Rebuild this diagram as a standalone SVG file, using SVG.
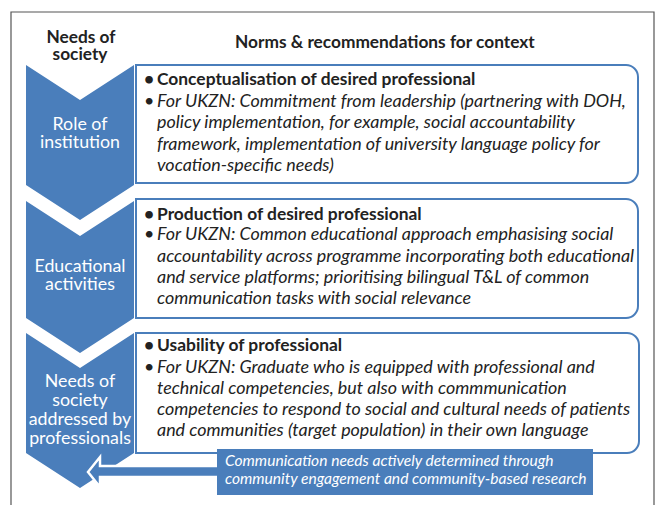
<svg xmlns="http://www.w3.org/2000/svg" width="657" height="505" viewBox="0 0 657 505">
<style>
.frame{fill:none;stroke:#555;stroke-width:1.2}
.chev{fill:#4a7ebb}
.box{fill:#fff;stroke:#4a7ebb;stroke-width:2}
.hdr{font-family:Lato,"Open Sans",sans-serif;font-weight:bold;font-size:17.3px;fill:#222}
.lbl{font-family:Lato,"Open Sans",sans-serif;font-size:17.8px;fill:#fff;text-anchor:middle}
.b{font-family:Lato,"Open Sans",sans-serif;font-weight:bold;font-size:17.4px;fill:#222}
.i{font-family:Lato,"Open Sans",sans-serif;font-style:italic;font-size:17.9px;fill:#222}
.note{font-family:Lato,"Open Sans",sans-serif;font-style:italic;font-size:15.6px;fill:#fff}
</style>
<rect width="657" height="505" fill="#fff"/>
<path class="frame" d="M11,505 V12 H654 V505"/>
<g id="header">
<text class="hdr" x="81" y="43" text-anchor="middle">Needs of</text>
<text class="hdr" x="80" y="60" text-anchor="middle">society</text>
<text class="hdr" x="235" y="48">Norms &amp; recommendations for context</text>
</g>
<g id="chevron1">
<path class="chev" d="M26,65 L80,100 L134,65 V185 L80,220 L26,185 Z"/>
<text class="lbl" x="80" y="130">Role of</text>
<text class="lbl" x="80" y="148">institution</text>
</g>
<g id="chevron2">
<path class="chev" d="M26,201 L80,236 L134,201 V318 L80,353 L26,318 Z"/>
<text class="lbl" x="80" y="272">Educational</text>
<text class="lbl" x="80" y="290">activities</text>
</g>
<g id="chevron3">
<path class="chev" d="M26,333 L80,368 L134,333 V453 L80,488 L26,453 Z"/>
<text class="lbl" x="80" y="387">Needs of</text>
<text class="lbl" x="80" y="406">society</text>
<text class="lbl" x="80" y="425">addressed by</text>
<text class="lbl" x="80" y="444">professionals</text>
</g>
<g id="box1">
<path class="box" d="M136,65 H626 A12,12 0 0 1 638,77 V171 A12,12 0 0 1 626,183 H136 Z"/>
<text class="b" x="144" y="85">•</text>
<text class="b" x="157" y="85">Conceptualisation of desired professional</text>
<text class="i" x="144" y="107" font-style="normal">•</text>
<text class="i" x="157" y="107">For UKZN: Commitment from leadership (partnering with DOH,</text>
<text class="i" x="157" y="128">policy implementation, for example, social accountability</text>
<text class="i" x="157" y="150">framework, implementation of university language policy for</text>
<text class="i" x="157" y="171">vocation-specific needs)</text>
</g>
<g id="box2">
<path class="box" d="M136,199 H626 A12,12 0 0 1 638,211 V306 A12,12 0 0 1 626,318 H136 Z"/>
<text class="b" x="144" y="220">•</text>
<text class="b" x="157" y="220">Production of desired professional</text>
<text class="i" x="144" y="240" font-style="normal">•</text>
<text class="i" x="157" y="240">For UKZN: Common educational approach emphasising social</text>
<text class="i" x="157" y="262">accountability across programme incorporating both educational</text>
<text class="i" x="157" y="283">and service platforms; prioritising bilingual T&amp;L of common</text>
<text class="i" x="157" y="304">communication tasks with social relevance</text>
</g>
<g id="box3">
<path class="box" d="M136,333 H627 A12,12 0 0 1 639,345 V441 A12,12 0 0 1 627,453 H136 Z"/>
<text class="b" x="144" y="351">•</text>
<text class="b" x="157" y="351">Usability of professional</text>
<text class="i" x="144" y="373" font-style="normal">•</text>
<text class="i" x="157" y="373">For UKZN: Graduate who is equipped with professional and</text>
<text class="i" x="157" y="394">technical competencies, but also with commmunication</text>
<text class="i" x="157" y="415">competencies to respond to social and cultural needs of patients</text>
<text class="i" x="157" y="436">and communities (target population) in their own language</text>
</g>
<g id="connectors">
<path d="M88,472 L100,457 V466 H220 V477 H100 V487 Z" fill="#4a7ebb" stroke="#fff" stroke-width="2.5" stroke-linejoin="miter"/>
</g>
<g id="note">
<rect x="217" y="449" width="376" height="46" fill="#4a7ebb"/>
<text class="note" x="225" y="466">Communication needs actively determined through</text>
<text class="note" x="225" y="484">community engagement and community-based research</text>
</g>
</svg>
